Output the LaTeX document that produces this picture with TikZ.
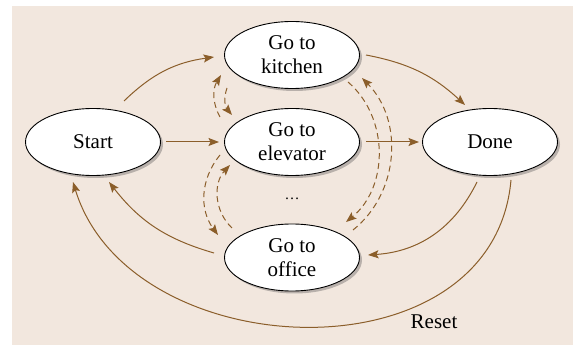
\documentclass[tikz,border=0pt]{standalone}
\usepackage{fontspec}
\setmainfont{Liberation Serif}
\newfontfamily\diagfont{Liberation Serif}
\usetikzlibrary{shapes.geometric,shadows,arrows.meta,calc}
\definecolor{bgbeige}{RGB}{242,231,222}
\definecolor{arrbrown}{RGB}{139,94,42}
\begin{document}
\begin{tikzpicture}[x=1pt,y=1pt,
  state/.style={ellipse,draw=black,line width=0.9pt,fill=white,
    minimum width=135pt,minimum height=67pt,inner sep=0pt,align=center,
    font=\diagfont\fontsize{21}{24}\selectfont,
    drop shadow={shadow xshift=2.5pt,shadow yshift=-2.5pt,opacity=0.35,fill=black!70}},
  conn/.style={draw=arrbrown,line width=1pt,-{Stealth[length=10.5pt,width=8pt,inset=2pt]}},
  dconn/.style={conn,dash pattern=on 6pt off 4pt},
  lbl/.style={font=\diagfont\fontsize{21}{24}\selectfont,inner sep=0pt}]
\useasboundingbox (0,0) rectangle (573,345);
\fill[bgbeige] (12,0) rectangle (573,339);

\node[state] (start)    at (93,203)   {Start};
\node[state] (kitchen)  at (292,290)  {Go to\\kitchen};
\node[state] (elevator) at (292,203)  {Go to\\elevator};
\node[state] (done)     at (490,203)  {Done};
\node[state] (office)   at (292,87.5) {Go to\\office};
\node[font=\diagfont\fontsize{15}{17}\selectfont,inner sep=0pt] (dots) at (292,146) {…};
\node[lbl] (reset) at (434,23) {Reset};

% solid transitions
\draw[conn] ($(start)+(31,41)$) to[bend left=18] ($(kitchen)+(-78,-2)$);
\draw[conn] ($(start)+(73,0)$) -- ($(elevator)+(-73,0)$);
\draw[conn] ($(elevator)+(74,0)$) -- ($(done)+(-71,0)$);
\draw[conn] ($(kitchen)+(74,0)$) to[bend left=16] ($(done)+(-25,37)$);
\draw[conn] ($(done)+(-13,-40)$) to[bend left=30] ($(office)+(76,2.5)$);
\draw[conn] ($(office)+(-78,4.5)$) to[bend left=18] ($(start)+(16,-40)$);
\draw[conn] ($(done)+(21,-38)$) .. controls +(-95:203) and +(-73:194) .. ($(start)+(-20,-40)$);

% dashed transitions
\draw[dconn] ($(elevator)+(-72,25)$) to[bend left=30] ($(kitchen)+(-71,-20)$);
\draw[dconn] ($(kitchen)+(-65,-33)$) to[bend right=30] ($(elevator)+(-60,27)$);
\draw[dconn] ($(elevator)+(-72,-13)$) to[bend right=38] ($(office)+(-74,22.5)$);
\draw[dconn] ($(office)+(-60,29.5)$) to[bend left=45] ($(elevator)+(-62,-23)$);
\draw[dconn] ($(kitchen)+(56,-27)$) to[bend left=50] ($(office)+(54,35.5)$);
\draw[dconn] ($(office)+(61,27.5)$) to[bend right=48] ($(kitchen)+(70,-23)$);
\end{tikzpicture}
\end{document}
